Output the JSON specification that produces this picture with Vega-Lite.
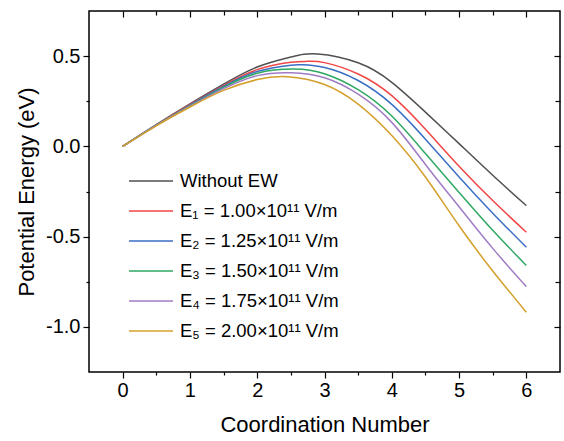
{
  "$schema": "https://vega.github.io/schema/vega-lite/v6.json",
  "width": 471,
  "height": 361,
  "autosize": "none",
  "padding": {"left": 89, "top": 11, "right": 4, "bottom": 69},
  "background": "white",
  "config": {
    "font": "Liberation Sans",
    "view": {"stroke": "black", "strokeWidth": 1.5},
    "axis": {"grid": false, "domainColor": "black", "domainWidth": 1.5, "tickColor": "black", "tickWidth": 1.2, "labelColor": "black", "titleColor": "black", "labelFont": "Liberation Sans", "titleFont": "Liberation Sans", "labelFontSize": 20, "titleFontSize": 22, "titleFontWeight": "normal"}
  },
  "data": {"values": [
    {"x": 0, "E": 0, "s": "Without EW"},
    {"x": 0.5, "E": 0.121, "s": "Without EW"},
    {"x": 1, "E": 0.236, "s": "Without EW"},
    {"x": 1.5, "E": 0.345, "s": "Without EW"},
    {"x": 2, "E": 0.44, "s": "Without EW"},
    {"x": 2.5, "E": 0.495, "s": "Without EW"},
    {"x": 2.9, "E": 0.512, "s": "Without EW"},
    {"x": 3.5, "E": 0.463, "s": "Without EW"},
    {"x": 4, "E": 0.355, "s": "Without EW"},
    {"x": 4.5, "E": 0.19, "s": "Without EW"},
    {"x": 5, "E": 0.015, "s": "Without EW"},
    {"x": 5.5, "E": -0.16, "s": "Without EW"},
    {"x": 6, "E": -0.328, "s": "Without EW"},

    {"x": 0, "E": 0, "s": "E₁ = 1.00×10¹¹ V/m"},
    {"x": 0.5, "E": 0.119, "s": "E₁ = 1.00×10¹¹ V/m"},
    {"x": 1, "E": 0.232, "s": "E₁ = 1.00×10¹¹ V/m"},
    {"x": 1.5, "E": 0.337, "s": "E₁ = 1.00×10¹¹ V/m"},
    {"x": 2, "E": 0.425, "s": "E₁ = 1.00×10¹¹ V/m"},
    {"x": 2.5, "E": 0.466, "s": "E₁ = 1.00×10¹¹ V/m"},
    {"x": 2.75, "E": 0.471, "s": "E₁ = 1.00×10¹¹ V/m"},
    {"x": 3, "E": 0.464, "s": "E₁ = 1.00×10¹¹ V/m"},
    {"x": 3.5, "E": 0.401, "s": "E₁ = 1.00×10¹¹ V/m"},
    {"x": 4, "E": 0.281, "s": "E₁ = 1.00×10¹¹ V/m"},
    {"x": 4.5, "E": 0.095, "s": "E₁ = 1.00×10¹¹ V/m"},
    {"x": 5, "E": -0.11, "s": "E₁ = 1.00×10¹¹ V/m"},
    {"x": 5.5, "E": -0.3, "s": "E₁ = 1.00×10¹¹ V/m"},
    {"x": 6, "E": -0.476, "s": "E₁ = 1.00×10¹¹ V/m"},

    {"x": 0, "E": 0, "s": "E₂ = 1.25×10¹¹ V/m"},
    {"x": 0.5, "E": 0.118, "s": "E₂ = 1.25×10¹¹ V/m"},
    {"x": 1, "E": 0.229, "s": "E₂ = 1.25×10¹¹ V/m"},
    {"x": 1.5, "E": 0.332, "s": "E₂ = 1.25×10¹¹ V/m"},
    {"x": 2, "E": 0.415, "s": "E₂ = 1.25×10¹¹ V/m"},
    {"x": 2.5, "E": 0.45, "s": "E₂ = 1.25×10¹¹ V/m"},
    {"x": 2.65, "E": 0.452, "s": "E₂ = 1.25×10¹¹ V/m"},
    {"x": 3, "E": 0.437, "s": "E₂ = 1.25×10¹¹ V/m"},
    {"x": 3.5, "E": 0.365, "s": "E₂ = 1.25×10¹¹ V/m"},
    {"x": 4, "E": 0.233, "s": "E₂ = 1.25×10¹¹ V/m"},
    {"x": 4.5, "E": 0.04, "s": "E₂ = 1.25×10¹¹ V/m"},
    {"x": 5, "E": -0.17, "s": "E₂ = 1.25×10¹¹ V/m"},
    {"x": 5.5, "E": -0.37, "s": "E₂ = 1.25×10¹¹ V/m"},
    {"x": 6, "E": -0.559, "s": "E₂ = 1.25×10¹¹ V/m"},

    {"x": 0, "E": 0, "s": "E₃ = 1.50×10¹¹ V/m"},
    {"x": 0.5, "E": 0.117, "s": "E₃ = 1.50×10¹¹ V/m"},
    {"x": 1, "E": 0.226, "s": "E₃ = 1.50×10¹¹ V/m"},
    {"x": 1.5, "E": 0.327, "s": "E₃ = 1.50×10¹¹ V/m"},
    {"x": 2, "E": 0.405, "s": "E₃ = 1.50×10¹¹ V/m"},
    {"x": 2.55, "E": 0.428, "s": "E₃ = 1.50×10¹¹ V/m"},
    {"x": 3, "E": 0.402, "s": "E₃ = 1.50×10¹¹ V/m"},
    {"x": 3.5, "E": 0.314, "s": "E₃ = 1.50×10¹¹ V/m"},
    {"x": 4, "E": 0.168, "s": "E₃ = 1.50×10¹¹ V/m"},
    {"x": 4.5, "E": -0.04, "s": "E₃ = 1.50×10¹¹ V/m"},
    {"x": 5, "E": -0.255, "s": "E₃ = 1.50×10¹¹ V/m"},
    {"x": 5.5, "E": -0.465, "s": "E₃ = 1.50×10¹¹ V/m"},
    {"x": 6, "E": -0.66, "s": "E₃ = 1.50×10¹¹ V/m"},

    {"x": 0, "E": 0, "s": "E₄ = 1.75×10¹¹ V/m"},
    {"x": 0.5, "E": 0.116, "s": "E₄ = 1.75×10¹¹ V/m"},
    {"x": 1, "E": 0.223, "s": "E₄ = 1.75×10¹¹ V/m"},
    {"x": 1.5, "E": 0.32, "s": "E₄ = 1.75×10¹¹ V/m"},
    {"x": 2, "E": 0.392, "s": "E₄ = 1.75×10¹¹ V/m"},
    {"x": 2.5, "E": 0.408, "s": "E₄ = 1.75×10¹¹ V/m"},
    {"x": 3, "E": 0.38, "s": "E₄ = 1.75×10¹¹ V/m"},
    {"x": 3.5, "E": 0.289, "s": "E₄ = 1.75×10¹¹ V/m"},
    {"x": 4, "E": 0.133, "s": "E₄ = 1.75×10¹¹ V/m"},
    {"x": 4.5, "E": -0.1, "s": "E₄ = 1.75×10¹¹ V/m"},
    {"x": 5, "E": -0.335, "s": "E₄ = 1.75×10¹¹ V/m"},
    {"x": 5.5, "E": -0.565, "s": "E₄ = 1.75×10¹¹ V/m"},
    {"x": 6, "E": -0.777, "s": "E₄ = 1.75×10¹¹ V/m"},

    {"x": 0, "E": 0, "s": "E₅ = 2.00×10¹¹ V/m"},
    {"x": 0.5, "E": 0.114, "s": "E₅ = 2.00×10¹¹ V/m"},
    {"x": 1, "E": 0.218, "s": "E₅ = 2.00×10¹¹ V/m"},
    {"x": 1.5, "E": 0.31, "s": "E₅ = 2.00×10¹¹ V/m"},
    {"x": 2, "E": 0.37, "s": "E₅ = 2.00×10¹¹ V/m"},
    {"x": 2.45, "E": 0.386, "s": "E₅ = 2.00×10¹¹ V/m"},
    {"x": 3, "E": 0.343, "s": "E₅ = 2.00×10¹¹ V/m"},
    {"x": 3.5, "E": 0.234, "s": "E₅ = 2.00×10¹¹ V/m"},
    {"x": 4, "E": 0.06, "s": "E₅ = 2.00×10¹¹ V/m"},
    {"x": 4.5, "E": -0.17, "s": "E₅ = 2.00×10¹¹ V/m"},
    {"x": 5, "E": -0.44, "s": "E₅ = 2.00×10¹¹ V/m"},
    {"x": 5.5, "E": -0.69, "s": "E₅ = 2.00×10¹¹ V/m"},
    {"x": 6, "E": -0.919, "s": "E₅ = 2.00×10¹¹ V/m"}
  ]},
  "resolve": {"axis": {"x": "independent", "y": "independent"}},
  "layer": [
    {
      "mark": {"type": "line", "interpolate": "natural", "strokeWidth": 1.5},
      "encoding": {
        "x": {"field": "x", "type": "quantitative", "scale": {"domain": [-0.5, 6.5], "nice": false, "zero": false},
          "axis": {"orient": "bottom", "title": "Coordination Number", "values": [0, 0.5, 1, 1.5, 2, 2.5, 3, 3.5, 4, 4.5, 5, 5.5, 6],
            "labelExpr": "datum.value % 1 === 0 ? format(datum.value, 'd') : ''",
            "tickSize": {"condition": {"test": "datum.value % 1 === 0", "value": 6}, "value": 3},
            "labelPadding": 2, "titlePadding": 14, "domain": false}},
        "y": {"field": "E", "type": "quantitative", "scale": {"domain": [-1.25, 0.75], "nice": false, "zero": false},
          "axis": {"orient": "left", "title": "Potential Energy (eV)", "values": [-1, -0.75, -0.5, -0.25, 0, 0.25, 0.5],
            "labelExpr": "datum.value % 0.5 === 0 ? replace(format(datum.value, '.1f'), '−', '-') : ''",
            "tickSize": {"condition": {"test": "datum.value % 0.5 === 0", "value": 6}, "value": 3},
            "labelPadding": 3, "titlePadding": 7, "domain": false}},
        "color": {"field": "s", "type": "nominal",
          "scale": {"domain": ["Without EW", "E₁ = 1.00×10¹¹ V/m", "E₂ = 1.25×10¹¹ V/m", "E₃ = 1.50×10¹¹ V/m", "E₄ = 1.75×10¹¹ V/m", "E₅ = 2.00×10¹¹ V/m"],
            "range": ["#505050", "#f04646", "#3a6fc4", "#2ea862", "#a07cc5", "#d4a02c"]},
          "legend": {"title": null, "orient": "none", "legendX": 50, "legendY": 158, "symbolType": "M-2,0H2", "symbolSize": 484, "symbolStrokeWidth": 1.5,
            "labelFontSize": 18.5, "labelFont": "Liberation Sans", "labelColor": "black", "labelOffset": 17, "rowPadding": 8, "padding": 0, "labelLimit": 400}}
      }
    },
    {
      "mark": {"type": "point", "opacity": 0},
      "encoding": {
        "x": {"field": "x", "type": "quantitative", "scale": {"domain": [-0.5, 6.5], "nice": false, "zero": false},
          "axis": {"orient": "top", "title": null, "labels": false, "domain": false, "values": [0, 0.5, 1, 1.5, 2, 2.5, 3, 3.5, 4, 4.5, 5, 5.5, 6],
            "tickSize": {"condition": {"test": "datum.value % 1 === 0", "value": -6}, "value": -4}}},
        "y": {"field": "E", "type": "quantitative", "scale": {"domain": [-1.25, 0.75], "nice": false, "zero": false},
          "axis": {"orient": "right", "title": null, "labels": false, "domain": false, "values": [-1, -0.75, -0.5, -0.25, 0, 0.25, 0.5],
            "tickSize": {"condition": {"test": "datum.value % 0.5 === 0", "value": -6}, "value": -5}}}
      }
    }
  ]
}
